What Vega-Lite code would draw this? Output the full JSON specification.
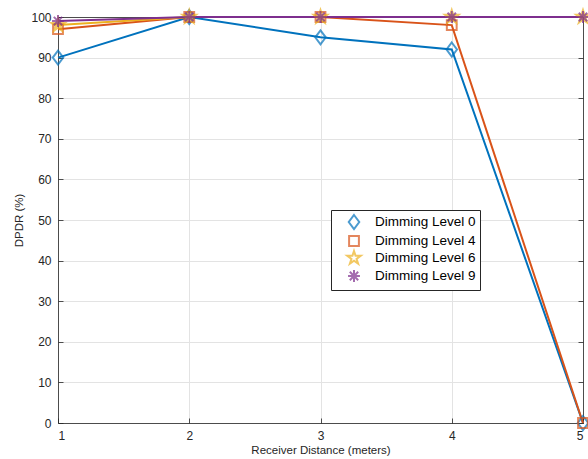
{
  "$schema": "https://vega.github.io/schema/vega-lite/v6.json",
  "width": 525,
  "height": 406,
  "autosize": {"type": "none"},
  "padding": {"left": 58, "top": 17, "right": 5, "bottom": 36},
  "background": "white",
  "data": {
    "values": [
      {"x": 1, "y": 90, "series": "Dimming Level 0"},
      {"x": 2, "y": 100, "series": "Dimming Level 0"},
      {"x": 3, "y": 95, "series": "Dimming Level 0"},
      {"x": 4, "y": 92, "series": "Dimming Level 0"},
      {"x": 5, "y": 0, "series": "Dimming Level 0"},
      {"x": 1, "y": 97, "series": "Dimming Level 4"},
      {"x": 2, "y": 100, "series": "Dimming Level 4"},
      {"x": 3, "y": 100, "series": "Dimming Level 4"},
      {"x": 4, "y": 98, "series": "Dimming Level 4"},
      {"x": 5, "y": 0, "series": "Dimming Level 4"},
      {"x": 1, "y": 98, "series": "Dimming Level 6"},
      {"x": 2, "y": 100, "series": "Dimming Level 6"},
      {"x": 3, "y": 100, "series": "Dimming Level 6"},
      {"x": 4, "y": 100, "series": "Dimming Level 6"},
      {"x": 5, "y": 100, "series": "Dimming Level 6"},
      {"x": 1, "y": 99, "series": "Dimming Level 9"},
      {"x": 2, "y": 100, "series": "Dimming Level 9"},
      {"x": 3, "y": 100, "series": "Dimming Level 9"},
      {"x": 4, "y": 100, "series": "Dimming Level 9"},
      {"x": 5, "y": 100, "series": "Dimming Level 9"}
    ]
  },
  "layer": [
    {
      "mark": {"type": "line", "strokeWidth": 2},
      "encoding": {
        "x": {
          "field": "x", "type": "quantitative",
          "scale": {"domain": [1, 5], "nice": false, "zero": false},
          "axis": {"values": [1, 2, 3, 4, 5], "format": "d", "title": "Receiver Distance (meters)", "grid": true, "labelPadding": 12, "titlePadding": 3}
        },
        "y": {
          "field": "y", "type": "quantitative",
          "scale": {"domain": [0, 100], "nice": false},
          "axis": {"values": [0, 10, 20, 30, 40, 50, 60, 70, 80, 90, 100], "title": "DPDR (%)", "grid": true, "labelPadding": 12, "titlePadding": 6}
        },
        "color": {
          "field": "series", "type": "nominal",
          "scale": {"domain": ["Dimming Level 0", "Dimming Level 4", "Dimming Level 6", "Dimming Level 9"], "range": ["#0072BD", "#D95319", "#EDB120", "#7E2F8E"]}
        }
      }
    },
    {
      "mark": {"type": "point", "filled": false, "strokeWidth": 2, "size": 196},
      "encoding": {
        "x": {
          "field": "x", "type": "quantitative",
          "axis": {"orient": "top", "values": [1, 2, 3, 4, 5], "labels": false, "title": null, "grid": false}
        },
        "y": {
          "field": "y", "type": "quantitative",
          "axis": {"orient": "right", "values": [0, 10, 20, 30, 40, 50, 60, 70, 80, 90, 100], "labels": false, "title": null, "grid": false}
        },
        "color": {
          "field": "series", "type": "nominal",
          "legend": {"title": null, "orient": "none", "legendX": 273, "legendY": 193}
        },
        "shape": {
          "field": "series", "type": "nominal",
          "scale": {
            "domain": ["Dimming Level 0", "Dimming Level 4", "Dimming Level 6", "Dimming Level 9"],
            "range": [
              "M0,-1L0.75,0L0,1L-0.75,0Z",
              "M-0.7,-0.7H0.7V0.7H-0.7Z",
              "M0,-1L0.225,-0.309L0.951,-0.309L0.363,0.118L0.588,0.809L0,0.382L-0.588,0.809L-0.363,0.118L-0.951,-0.309L-0.225,-0.309Z",
              "M-0.85,0H0.85M0,-0.85V0.85M-0.6,-0.6L0.6,0.6M-0.6,0.6L0.6,-0.6"
            ]
          },
          "legend": {"title": null, "orient": "none", "legendX": 273, "legendY": 193}
        },
        "fill": {
          "condition": {"test": "datum.series === 'Dimming Level 6'", "value": "#EDB120"},
          "value": "transparent"
        }
      }
    }
  ],
  "resolve": {"axis": {"x": "independent", "y": "independent"}},
  "config": {
    "view": {"stroke": null},
    "font": "Liberation Sans",
    "axis": {
      "labelFont": "Liberation Sans",
      "titleFont": "Liberation Sans",
      "labelFontSize": 12,
      "titleFontSize": 11.5,
      "labelColor": "#262626",
      "titleColor": "#262626",
      "titleFontWeight": "normal",
      "domainColor": "#262626",
      "domainWidth": 0.8,
      "tickColor": "#262626",
      "tickWidth": 0.8,
      "tickSize": -5,
      "gridColor": "#e3e3e3",
      "gridWidth": 1
    },
    "legend": {
      "labelFont": "Liberation Sans",
      "labelFontSize": 13.5,
      "labelColor": "#000000",
      "padding": 4,
      "symbolOffset": 11,
      "labelOffset": 13,
      "rowPadding": -7,
      "symbolSize": 196,
      "symbolStrokeWidth": 2,
      "strokeColor": "#262626",
      "fillColor": "white"
    }
  }
}
